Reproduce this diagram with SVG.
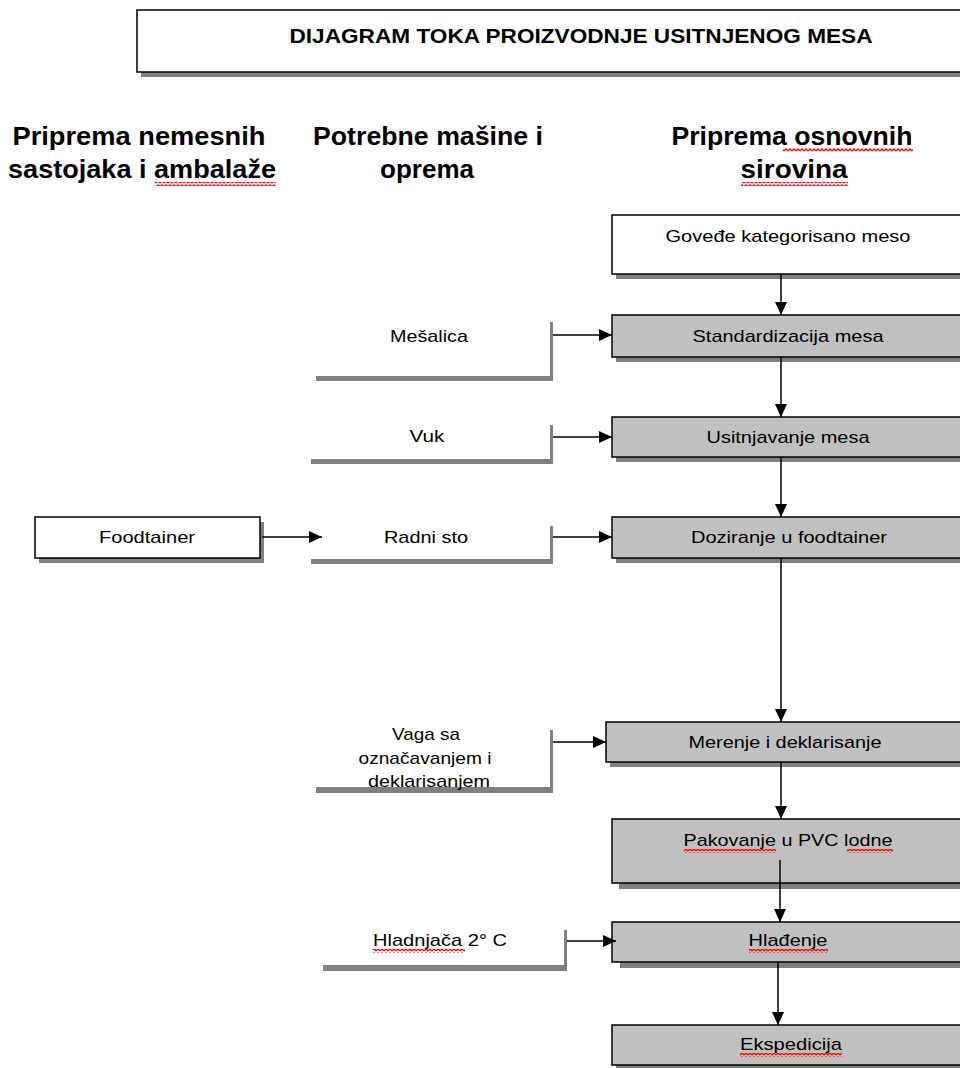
<svg xmlns="http://www.w3.org/2000/svg" width="960" height="1068" viewBox="0 0 960 1068">
<defs>
<marker id="ah" markerUnits="userSpaceOnUse" markerWidth="13" markerHeight="12" refX="13" refY="6" orient="auto">
<path d="M0,0 L13,6 L0,12 z" fill="#000"/>
</marker>
<pattern id="wave" patternUnits="userSpaceOnUse" width="4" height="4">
<path d="M0,3 L2,1 L4,3" fill="none" stroke="#ff0000" stroke-width="1.3"/>
</pattern>
<style>
.box{stroke:#000;stroke-width:1.5}
.white{fill:#fff}
.grey{fill:#c0c0c0}
.shadow{fill:#808080}
.t{font-family:"Liberation Sans",Arial,sans-serif;font-size:17px;fill:#000;text-anchor:middle}
.h{font-family:"Liberation Sans",Arial,sans-serif;font-size:25px;font-weight:bold;fill:#000;text-anchor:middle}
.title{font-family:"Liberation Sans",Arial,sans-serif;font-size:21px;font-weight:bold;fill:#000;text-anchor:middle}
.conn{stroke:#000;stroke-width:1.5;fill:none}
.sq{fill:url(#wave)}
.ebar{fill:#808080}
</style>
</defs>
<rect width="960" height="1068" fill="#fff"/>

<g id="title">
<rect class="shadow" x="141" y="15" width="830" height="62"/>
<rect class="box white" x="137" y="10" width="830" height="62"/>
<text class="title" x="581" y="43" textLength="583" lengthAdjust="spacingAndGlyphs">DIJAGRAM TOKA PROIZVODNJE USITNJENOG MESA</text>
</g>

<g id="headers">
<text class="h" x="139" y="145" textLength="253" lengthAdjust="spacingAndGlyphs">Priprema nemesnih</text>
<text class="h" x="142" y="178" textLength="268" lengthAdjust="spacingAndGlyphs">sastojaka i ambalaže</text>
<rect class="sq" x="155" y="182" width="121" height="4"/>
<text class="h" x="428" y="145" textLength="230" lengthAdjust="spacingAndGlyphs">Potrebne mašine i</text>
<text class="h" x="427" y="178" textLength="94" lengthAdjust="spacingAndGlyphs">oprema</text>
<text class="h" x="792" y="145" textLength="241" lengthAdjust="spacingAndGlyphs">Priprema osnovnih</text>
<rect class="sq" x="783" y="148" width="130" height="4"/>
<text class="h" x="794" y="178" textLength="107" lengthAdjust="spacingAndGlyphs">sirovina</text>
<rect class="sq" x="741" y="182" width="107" height="4"/>
</g>

<g id="n-govedje">
<rect class="shadow" x="616" y="220" width="360" height="59"/>
<rect class="box white" x="612" y="215" width="360" height="59"/>
<text class="t" x="788" y="242" textLength="245" lengthAdjust="spacingAndGlyphs">Goveđe kategorisano meso</text>
</g>

<g id="n-standardizacija">
<rect class="shadow" x="616" y="320" width="360" height="42"/>
<rect class="box grey" x="612" y="315" width="360" height="42"/>
<text class="t" x="788" y="342" textLength="191" lengthAdjust="spacingAndGlyphs">Standardizacija mesa</text>
</g>

<g id="n-usitnjavanje">
<rect class="shadow" x="616" y="422" width="360" height="40"/>
<rect class="box grey" x="612" y="417" width="360" height="40"/>
<text class="t" x="788" y="443" textLength="163" lengthAdjust="spacingAndGlyphs">Usitnjavanje mesa</text>
</g>

<g id="n-doziranje">
<rect class="shadow" x="616" y="522" width="360" height="41"/>
<rect class="box grey" x="612" y="517" width="360" height="41"/>
<text class="t" x="789" y="543" textLength="196" lengthAdjust="spacingAndGlyphs">Doziranje u foodtainer</text>
</g>

<g id="n-merenje">
<rect class="shadow" x="610" y="727" width="360" height="40"/>
<rect class="box grey" x="606" y="722" width="360" height="40"/>
<text class="t" x="785" y="748" textLength="193" lengthAdjust="spacingAndGlyphs">Merenje i deklarisanje</text>
</g>

<g id="n-pakovanje">
<rect class="shadow" x="619" y="825" width="360" height="64"/>
<rect class="box grey" x="612" y="819" width="360" height="64"/>
<text class="t" x="788" y="846" textLength="209" lengthAdjust="spacingAndGlyphs">Pakovanje u PVC lodne</text>
<rect class="sq" x="684" y="849" width="92" height="4"/>
<rect class="sq" x="847" y="849" width="46" height="4"/>
</g>

<g id="n-hladjenje">
<rect class="shadow" x="620" y="927" width="360" height="41"/>
<rect class="box grey" x="612" y="922" width="360" height="40"/>
<text class="t" x="788" y="946" textLength="79" lengthAdjust="spacingAndGlyphs">Hlađenje</text>
<rect class="sq" x="749" y="949" width="79" height="4"/>
</g>

<g id="n-ekspedicija">
<rect class="shadow" x="616" y="1030" width="360" height="40"/>
<rect class="box grey" x="612" y="1025" width="360" height="40"/>
<text class="t" x="791" y="1050" textLength="102" lengthAdjust="spacingAndGlyphs">Ekspedicija</text>
<rect class="sq" x="740" y="1053" width="102" height="4"/>
</g>

<g id="n-foodtainer">
<rect class="shadow" x="39" y="522" width="225" height="41"/>
<rect class="box white" x="35" y="517" width="225" height="41"/>
<text class="t" x="147" y="543" textLength="96" lengthAdjust="spacingAndGlyphs">Foodtainer</text>
</g>

<g id="e-mesalica">
<rect class="ebar" x="550" y="322" width="3" height="59"/>
<rect class="ebar" x="316" y="376" width="237" height="5"/>
<text class="t" x="429" y="342" textLength="78" lengthAdjust="spacingAndGlyphs">Mešalica</text>
</g>

<g id="e-vuk">
<rect class="ebar" x="550" y="425" width="3" height="39"/>
<rect class="ebar" x="311" y="459" width="242" height="5"/>
<text class="t" x="427" y="442" textLength="35" lengthAdjust="spacingAndGlyphs">Vuk</text>
</g>

<g id="e-radni-sto">
<rect class="ebar" x="550" y="526" width="3" height="38"/>
<rect class="ebar" x="311" y="559" width="242" height="5"/>
<text class="t" x="426" y="543" textLength="84" lengthAdjust="spacingAndGlyphs">Radni sto</text>
</g>

<g id="e-vaga">
<rect class="ebar" x="550" y="730" width="3" height="63"/>
<rect class="ebar" x="316" y="787" width="237" height="6"/>
<text class="t" x="426" y="740" textLength="68" lengthAdjust="spacingAndGlyphs">Vaga sa</text>
<text class="t" x="425" y="764" textLength="133" lengthAdjust="spacingAndGlyphs">označavanjem i</text>
<text class="t" x="429" y="787" textLength="122" lengthAdjust="spacingAndGlyphs">deklarisanjem</text>
</g>

<g id="e-hladnjaca">
<rect class="ebar" x="564" y="930" width="3" height="41"/>
<rect class="ebar" x="323" y="965" width="244" height="6"/>
<text class="t" x="440" y="946" textLength="134" lengthAdjust="spacingAndGlyphs">Hladnjača 2° C</text>
<rect class="sq" x="373" y="949" width="92" height="4"/>
</g>

<g id="connectors">
<line class="conn" x1="781" y1="274" x2="781" y2="315" marker-end="url(#ah)"/>
<line class="conn" x1="781" y1="357" x2="781" y2="417" marker-end="url(#ah)"/>
<line class="conn" x1="781" y1="457" x2="781" y2="517" marker-end="url(#ah)"/>
<line class="conn" x1="781" y1="558" x2="781" y2="722" marker-end="url(#ah)"/>
<line class="conn" x1="781" y1="762" x2="781" y2="819" marker-end="url(#ah)"/>
<line class="conn" x1="780" y1="860" x2="780" y2="922" marker-end="url(#ah)"/>
<line class="conn" x1="778" y1="962" x2="778" y2="1025" marker-end="url(#ah)"/>
<line class="conn" x1="553" y1="335" x2="612" y2="335" marker-end="url(#ah)"/>
<line class="conn" x1="553" y1="437" x2="612" y2="437" marker-end="url(#ah)"/>
<line class="conn" x1="553" y1="537" x2="612" y2="537" marker-end="url(#ah)"/>
<line class="conn" x1="262" y1="537" x2="322" y2="537" marker-end="url(#ah)"/>
<line class="conn" x1="553" y1="742" x2="606" y2="742" marker-end="url(#ah)"/>
<line class="conn" x1="567" y1="941" x2="616" y2="941" marker-end="url(#ah)"/>
</g>
</svg>
